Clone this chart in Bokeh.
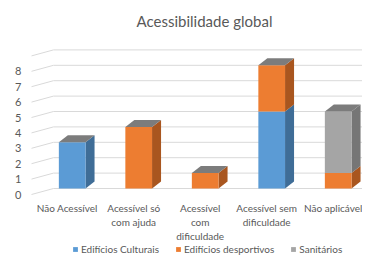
from bokeh.plotting import figure
from bokeh.models import Range1d, Legend, LegendItem, Label
from bokeh.core.properties import value
from bokeh.embed import file_html
from bokeh.resources import INLINE

# ---- data ----
categories = ["Não Acessível", "Acessível só com ajuda", "Acessível com dificuldade",
              "Acessível sem dificuldade", "Não aplicável"]
category_labels = ["Não Acessível", "Acessível só\ncom ajuda", "Acessível\ncom\ndificuldade",
                   "Acessível sem\ndificuldade", "Não aplicável"]
culturais = [3, 0, 0, 5, 0]
desportivos = [0, 4, 1, 3, 1]
sanitarios = [0, 0, 0, 0, 4]
series_names = ["Edifícios Culturais", "Edifícios desportivos", "Sanitários"]
y_ticks = [0, 1, 2, 3, 4, 5, 6, 7, 8]
grid_levels = [0, 1, 2, 3, 4, 5, 6, 7, 8, 9]

# ---- styles ----
FRONT = ["#5b9bd5", "#ed7d31", "#a5a5a5"]
SIDE = ["#3f6d97", "#a9561f", "#767676"]
TOP = "#7c7c7c"
GRID = "#d9d9d9"
TXT = "#595959"
FONT = "Lato"

W, H = 362, 256
PX_X = 66.5      # pixels per category
PX_Y = 15.4      # pixels per unit
X0 = 71.7        # pixel x of first category centre
Y0 = 188.0       # pixel y (from top) of value 0

x_range = Range1d(-X0 / PX_X, (W - X0) / PX_X)
y_range = Range1d(-(H - Y0) / PX_Y, Y0 / PX_Y)

p = figure(width=W, height=H, x_range=x_range, y_range=y_range,
           output_backend="svg", toolbar_location=None, min_border=0,
           outline_line_color=None, background_fill_color="white")
p.axis.visible = False
p.xgrid.visible = False
p.ygrid.visible = False

def cx(px):
    return px / PX_X

def cy(px):
    return px / PX_Y

# ---- gridlines (3D wall + floor diagonal) ----
xb = cx(53 - X0)
xf = cx(31 - X0)
drop = cy(6)
gx, gy = [], []
for v in grid_levels:
    gx.append([xf, xb, x_range.end])
    gy.append([v - drop, v, v])
p.multi_line(gx, gy, line_color=GRID, line_width=1)

# ---- y labels ----
p.text(x=[cx(21 - X0)] * len(y_ticks), y=[v - drop for v in y_ticks],
       text=[str(v) for v in y_ticks], text_align="right", text_baseline="middle",
       text_font=value(FONT), text_font_size="11px", text_color=TXT)

# ---- 3D stacked bars ----
hw = cx(13.35)
dx = cx(9)
dy = cy(7)
series = [culturais, desportivos, sanitarios]
totals = [sum(s[i] for s in series) for i in range(len(categories))]
legend_items = []
for k, s in enumerate(series):
    fl, fr, fb, ft = [], [], [], []
    sx, sy = [], []
    for i in range(len(categories)):
        base = sum(series[j][i] for j in range(k))
        if s[i] == 0:
            continue
        top = base + s[i]
        fl.append(i - hw); fr.append(i + hw); fb.append(base); ft.append(top)
        sx.append([i + hw, i + hw + dx, i + hw + dx, i + hw])
        sy.append([base, base + dy, top + dy, top])
    if sx:
        p.patches(sx, sy, fill_color=SIDE[k], line_color=None)
    r = p.quad(left=fl, right=fr, bottom=fb, top=ft, fill_color=FRONT[k], line_color=None)
    legend_items.append(LegendItem(label=series_names[k], renderers=[r]))

tx, ty = [], []
for i, t in enumerate(totals):
    tx.append([i - hw, i + hw, i + hw + dx, i - hw + dx])
    ty.append([t, t, t + dy, t + dy])
p.patches(tx, ty, fill_color=TOP, line_color=None)

# ---- category labels ----
p.text(x=[i - cx(5) for i in range(len(categories))], y=[-cy(13)] * len(categories),
       text=category_labels, text_align="center", text_baseline="top",
       text_font=value(FONT), text_font_size="10px", text_color=TXT,
       text_line_height=1.2)

# ---- title ----
p.add_layout(Label(x=204, y=H - 20, x_units="screen", y_units="screen",
                   text="Acessibilidade global", text_align="center",
                   text_baseline="middle", text_font=FONT, text_font_size="15px",
                   text_color=TXT))

# ---- legend ----
legend = Legend(items=legend_items, orientation="horizontal", location=(72, 1),
                label_text_font=FONT, label_text_font_size="10px",
                label_text_color=TXT, glyph_width=6, glyph_height=6,
                label_standoff=3, spacing=16, padding=0, margin=0,
                border_line_color=None, background_fill_alpha=0,
                label_height=10)
p.add_layout(legend, "center")

open("out.html", "w").write(file_html(p, INLINE))
